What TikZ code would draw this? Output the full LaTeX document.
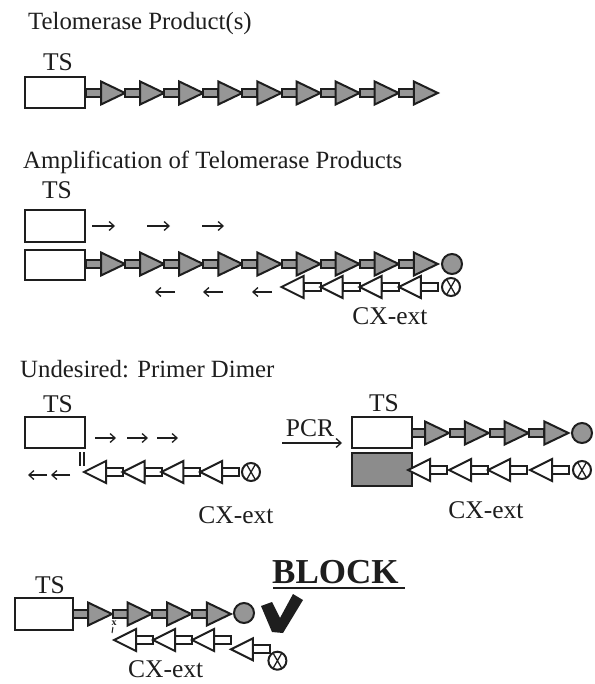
\documentclass[tikz,border=0pt]{standalone}
\usepackage{fontspec}
\setmainfont{Liberation Serif}
\usetikzlibrary{arrows.meta}
\definecolor{ink}{RGB}{30,30,30}
\definecolor{tgray}{RGB}{150,150,150}
\definecolor{bgray}{RGB}{140,140,140}
\begin{document}
\begin{tikzpicture}[x=1pt,y=-1pt,
  shp/.style={line width=2pt, draw=ink, line join=miter},
  fconn/.style={shp, fill=tgray},
  ftri/.style={shp, fill=tgray},
  rconn/.style={shp, fill=white},
  rtri/.style={shp, fill=white},
  tsbox/.style={draw=ink, line width=2.3pt, fill=white, inner sep=0, outer sep=0, minimum width=60pt, minimum height=31pt},
  title/.style={anchor=base west, inner sep=0, text=ink, font=\fontsize{24.8}{28}\selectfont},
  lab/.style={inner sep=0, text=ink, font=\fontsize{25.5}{28}\selectfont},
  sarrow/.style={draw=ink, line width=1.3pt, -{Straight Barb[length=5pt,width=9pt]}},
  fu/.pic={\draw[fconn] (-15,-3.9) rectangle (0,3.9);
           \draw[ftri] (0,-11.5) -- (24,0) -- (0,11.5) -- cycle;},
  ru/.pic={\draw[rconn] (0,-3.9) rectangle (17,3.9);
           \draw[rtri] (0,-11) -- (-22,0) -- (0,11) -- cycle;},
  gcirc/.pic={\draw[shp, fill=tgray] (0,0) circle (10);},
  xcirc/.pic={\draw[shp, fill=white] (0,0) circle (9);
              \draw[ink, line width=1.3pt] (-4,-7) -- (4,7) (4,-7) -- (-4,7);}
]
\useasboundingbox[fill=white] (0,0) rectangle (594,684);

% ---------- Section 1 ----------
\node[title] (h1) at (28,30) {Telomerase Product(s)};
\node[lab] (ts1) at (58,62) {TS};
\foreach \k in {0,...,8} \pic at ({101+39.1*\k},93) {fu};
\node[tsbox] (b1) at (55,92.5) {};

% ---------- Section 2 ----------
\node[title] (h2) at (23,169) {Amplification of Telomerase Products};
\node[lab] (ts2) at (57,190) {TS};
\node[tsbox, minimum height=32pt] (b2a) at (55,226) {};
\foreach \k in {0,...,8} \pic at ({101+39.1*\k},264) {fu};
\node[tsbox, minimum height=30pt] (b2b) at (55,265) {};
\pic at (452,264) {gcirc};
\foreach \k in {0,...,3} \pic at ({303.5+39.1*\k},287) {ru};
\pic at (451,287) {xcirc};
\draw[sarrow] (92,226) -- (115,226);
\draw[sarrow] (147,226) -- (170,226);
\draw[sarrow] (202,226) -- (224,226);
\draw[sarrow] (175,292) -- (155,292);
\draw[sarrow] (223,292) -- (203,292);
\draw[sarrow] (272,292) -- (252,292);
\node[lab] (cx2) at (390,316) {CX-ext};

% ---------- Section 3 left ----------
\node[title] (h3) at (20,377) {Undesired: Primer Dimer};
\node[lab] (ts3) at (58,404) {TS};
\node[tsbox] (b3) at (55,432.5) {};
\draw[sarrow] (95,438) -- (116,438);
\draw[sarrow] (127,438) -- (148,438);
\draw[sarrow] (157,438) -- (178,438);
\draw[ink, line width=1.5pt] (80,452) -- (80,466) (84,452) -- (84,466);
\foreach \k in {0,...,3} \pic at ({106+38.7*\k},472) {ru};
\pic at (251,472) {xcirc};
\draw[sarrow] (47,475) -- (28,475);
\draw[sarrow] (70,475) -- (51,475);
\node[lab] (cx3) at (236,515) {CX-ext};

% ---------- Section 3 right ----------
\node[lab] (pcr) at (310,428) {PCR};
\coordinate (pcrA) at (282,443);
\draw[sarrow] (pcrA) -- (342,443);
\node[lab] (ts4) at (384,403) {TS};
\foreach \k in {0,...,3} \pic at ({425+39.8*\k},433) {fu};
\node[tsbox] (b4a) at (382,432.5) {};
\pic at (582,433) {gcirc};
\node[tsbox, fill=bgray, minimum height=33pt] (b4b) at (382,469.5) {};
\foreach \b in {430,471,510,552} \pic at (\b,470) {ru};
\pic at (582,470) {xcirc};
\node[lab] (cx4) at (486,510) {CX-ext};

% ---------- Section 4 ----------
\node[lab] (ts5) at (50,585) {TS};
\foreach \k in {0,...,3} \pic at ({88+39.6*\k},614) {fu};
\node[tsbox, minimum width=58pt, minimum height=32pt] (b5) at (44,614) {};
\pic at (244,613) {gcirc};
\foreach \b in {136,175,214} \pic at (\b,640) {ru};
\begin{scope}[shift={(233,640)}, rotate=-25]
  \pic at (22,0) {ru};
  \pic at (49,0) {xcirc};
\end{scope}
\node[inner sep=0, text=ink, font=\fontsize{10}{10}\selectfont\bfseries] (xm) at (114,623) {x};
\draw[ink, line width=1pt] (113,627) -- (112,633);
\node[anchor=base west, inner sep=0, text=ink, font=\fontsize{35}{40}\selectfont\bfseries] (blk) at (272,583) {BLOCK};
\draw[ink, line width=2.5pt] (273,588) -- (405,588);
\fill[ink] (261,606) -- (272,602) -- (280,618) -- (293,594) -- (303,600) -- (283,633) -- (272,632) -- cycle;
\node[anchor=base west, lab] (cx5) at (128,677) {CX-ext};
\end{tikzpicture}
\end{document}
